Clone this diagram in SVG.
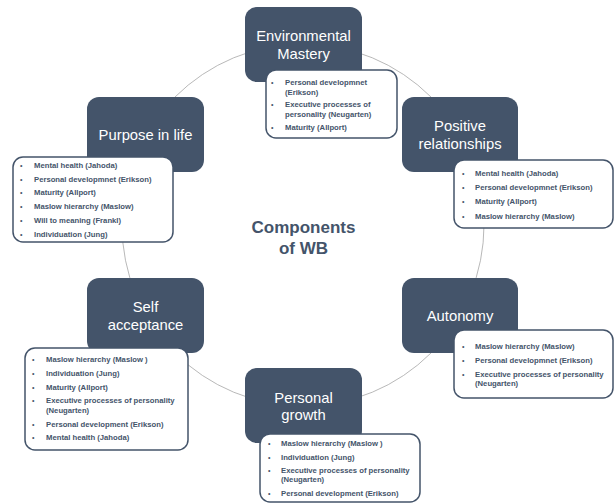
<svg xmlns="http://www.w3.org/2000/svg" width="614" height="504" viewBox="0 0 614 504">
<style>
.node{fill:#44546A;}
.nt{font-family:"Liberation Sans",Arial,sans-serif;font-size:14.8px;fill:#FFFFFF;text-anchor:middle;}
.box{fill:#FFFFFF;stroke:#44546A;stroke-width:1.5;}
.lt{font-family:"Liberation Sans",Arial,sans-serif;font-size:7.7px;font-weight:bold;fill:#44546A;}
.bu{font-family:"Liberation Sans",Arial,sans-serif;font-size:7px;fill:#44546A;}
.title{font-family:"Liberation Sans",Arial,sans-serif;font-size:17px;font-weight:bold;fill:#44546A;text-anchor:middle;}
.conn{fill:none;stroke:#A6A6A6;stroke-width:0.8;}
</style>
<rect width="614" height="504" fill="#FFFFFF"/>
<g id="connectors">
<circle class="conn" cx="303" cy="225" r="181"/>
</g>
<g id="title">
<text class="title" x="303.5" y="233">Components</text>
<text class="title" x="303.5" y="254">of WB</text>
</g>
<g id="environmental-mastery">
<rect class="node" x="245" y="7" width="117" height="75" rx="12"/>
<text class="nt" x="303.5" y="40.5">Environmental</text>
<text class="nt" x="303.5" y="59">Mastery</text>
<rect class="box" x="266" y="70" width="131" height="68" rx="10"/>
<text class="bu" x="271" y="84.7">•</text>
<text class="lt" x="285" y="84.7">Personal developmnet</text>
<text class="lt" x="285" y="94.7">(Erikson)</text>
<text class="bu" x="271" y="106.7">•</text>
<text class="lt" x="285" y="106.7">Executive processes of</text>
<text class="lt" x="285" y="117.2">personality (Neugarten)</text>
<text class="bu" x="271" y="129.7">•</text>
<text class="lt" x="285" y="129.7">Maturity (Allport)</text>
</g>
<g id="positive-relationships">
<rect class="node" x="402" y="97" width="116" height="75" rx="12"/>
<text class="nt" x="460" y="131">Positive</text>
<text class="nt" x="460" y="149">relationships</text>
<rect class="box" x="454" y="160" width="159" height="68" rx="10"/>
<text class="bu" x="462" y="175.7">•</text>
<text class="lt" x="475" y="175.7">Mental health (Jahoda)</text>
<text class="bu" x="462" y="190">•</text>
<text class="lt" x="475" y="190">Personal developmnet (Erikson)</text>
<text class="bu" x="462" y="204.3">•</text>
<text class="lt" x="475" y="204.3">Maturity (Allport)</text>
<text class="bu" x="462" y="218.6">•</text>
<text class="lt" x="475" y="218.6">Maslow hierarchy (Maslow)</text>
</g>
<g id="purpose-in-life">
<rect class="node" x="87" y="97" width="117" height="75" rx="12"/>
<text class="nt" x="145.5" y="140">Purpose in life</text>
<rect class="box" x="13" y="157" width="160" height="85" rx="10"/>
<text class="bu" x="20" y="167.7">•</text>
<text class="lt" x="34" y="167.7">Mental health (Jahoda)</text>
<text class="bu" x="20" y="181.5">•</text>
<text class="lt" x="34" y="181.5">Personal developmnet (Erikson)</text>
<text class="bu" x="20" y="195.3">•</text>
<text class="lt" x="34" y="195.3">Maturity (Allport)</text>
<text class="bu" x="20" y="209.1">•</text>
<text class="lt" x="34" y="209.1">Maslow hierarchy (Maslow)</text>
<text class="bu" x="20" y="222.9">•</text>
<text class="lt" x="34" y="222.9">Will to meaning (Frankl)</text>
<text class="bu" x="20" y="236.7">•</text>
<text class="lt" x="34" y="236.7">Individuation (Jung)</text>
</g>
<g id="self-acceptance">
<rect class="node" x="87" y="278" width="117" height="75" rx="12"/>
<text class="nt" x="145.5" y="312">Self</text>
<text class="nt" x="145.5" y="329.5">acceptance</text>
<rect class="box" x="25" y="348" width="163" height="102" rx="10"/>
<text class="bu" x="32" y="361.7">•</text>
<text class="lt" x="46" y="361.7">Maslow hierarchy (Maslow )</text>
<text class="bu" x="32" y="375.7">•</text>
<text class="lt" x="46" y="375.7">Individuation (Jung)</text>
<text class="bu" x="32" y="389.5">•</text>
<text class="lt" x="46" y="389.5">Maturity (Allport)</text>
<text class="bu" x="32" y="402.7">•</text>
<text class="lt" x="46" y="402.7">Executive processes of personality</text>
<text class="lt" x="46" y="412.7">(Neugarten)</text>
<text class="bu" x="32" y="426.5">•</text>
<text class="lt" x="46" y="426.5">Personal development (Erikson)</text>
<text class="bu" x="32" y="440">•</text>
<text class="lt" x="46" y="440">Mental health (Jahoda)</text>
</g>
<g id="autonomy">
<rect class="node" x="402" y="278" width="116" height="75" rx="12"/>
<text class="nt" x="460" y="321">Autonomy</text>
<rect class="box" x="454" y="330" width="159" height="68" rx="10"/>
<text class="bu" x="462" y="348.7">•</text>
<text class="lt" x="475" y="348.7">Maslow hierarchy (Maslow)</text>
<text class="bu" x="462" y="362.7">•</text>
<text class="lt" x="475" y="362.7">Personal developmnet (Erikson)</text>
<text class="bu" x="462" y="376.7">•</text>
<text class="lt" x="475" y="376.7">Executive processes of personality</text>
<text class="lt" x="475" y="386">(Neugarten)</text>
</g>
<g id="personal-growth">
<rect class="node" x="245" y="368" width="117" height="75" rx="12"/>
<text class="nt" x="303.5" y="402.5">Personal</text>
<text class="nt" x="303.5" y="420">growth</text>
<rect class="box" x="260" y="434" width="160" height="68" rx="10"/>
<text class="bu" x="268" y="445.7">•</text>
<text class="lt" x="281" y="445.7">Maslow hierarchy (Maslow )</text>
<text class="bu" x="268" y="459.7">•</text>
<text class="lt" x="281" y="459.7">Individuation (Jung)</text>
<text class="bu" x="268" y="472.7">•</text>
<text class="lt" x="281" y="472.7">Executive processes of personality</text>
<text class="lt" x="281" y="482.4">(Neugarten)</text>
<text class="bu" x="268" y="495.7">•</text>
<text class="lt" x="281" y="495.7">Personal development (Erikson)</text>
</g>
</svg>
